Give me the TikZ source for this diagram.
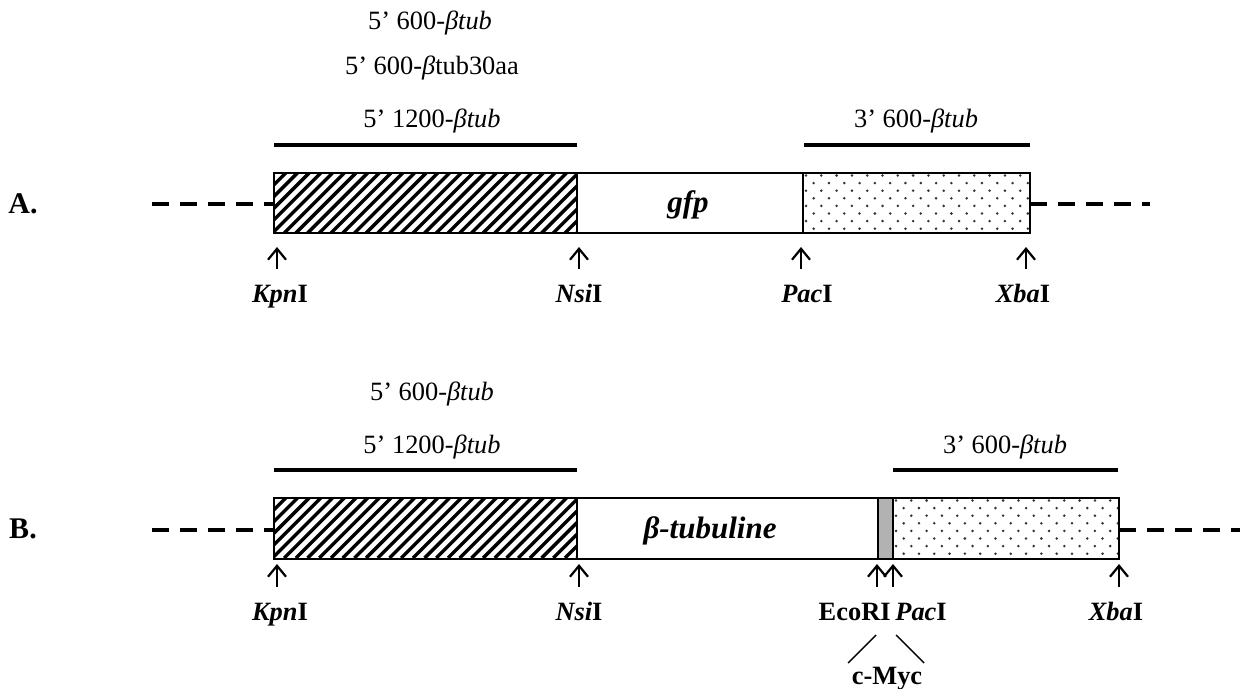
\documentclass[tikz,border=0pt]{standalone}
\usepackage{fontspec}
\setmainfont{Liberation Serif}
\usepackage{xcolor}
\usetikzlibrary{arrows.meta, positioning, calc}
\definecolor{inkOne}{HTML}{000000}
\definecolor{tagGray}{HTML}{B2B2B2}
\definecolor{dotc}{HTML}{333333}
\tikzset{
  seg/.style={draw=inkOne, line width=1pt},
  hatch/.style={draw=inkOne, line width=1.7pt},
  bar/.style={draw=inkOne, line width=2pt},
  vec/.style={draw=inkOne, line width=1.7pt, dash pattern=on 8.5pt off 5.5pt},
  site/.style={-{Straight Barb[length=5.5pt, width=9pt]}, draw=inkOne, line width=1.1pt},
  lbl/.style={font=\fontsize{13.2}{16}\selectfont, text=inkOne, inner sep=0pt},
  enz/.style={font=\fontsize{13.2}{16}\selectfont\bfseries, text=inkOne, inner sep=0pt},
  row/.style={font=\fontsize{15}{18}\selectfont\bfseries, text=inkOne, inner sep=0pt},
  gene/.style={font=\fontsize{15.5}{18}\selectfont\bfseries\itshape, text=inkOne, inner sep=0pt},
}

\begin{document}
\begin{tikzpicture}[x=0.5pt, y=-0.5pt]
  \useasboundingbox (0,0) rectangle (1240,689);
  % ---- hatched 5' parts and dotted 3' parts, both rows
  \foreach \yt in {173,498} {
    \begin{scope}
      \clip (274,\yt) rectangle (577,\yt+60);
      \foreach \k in {0,...,31} \draw[hatch] (214+11.7*\k,\yt+60) -- ++(60,-60);
    \end{scope}
  }
  \foreach \xl/\yt in {803/173, 893/498} {
    \begin{scope}
      \clip (\xl,\yt) rectangle (\xl+227,\yt+60);
      \foreach \i in {0,...,7}
        \foreach \j in {0,...,14}
          \fill[dotc] ({\xl+3+15.3*\j+7.65*mod(\i,2)},{\yt+2.5+7.6*\i}) circle[radius=0.7pt];
    \end{scope}
  }
  % ---- A: gfp construct
  \node[row] (rowA) at (23,204) {A.};
  \draw[vec] (152,204) -- (274,204);
  \draw[vec] (1030,204) -- (1150,204);
  \draw[seg] (274,173) rectangle (577,233);
  \draw[seg] (577,173) rectangle (803,233);
  \draw[seg] (803,173) rectangle (1030,233);
  \node[gene] (gfp) at (688,205) {gfp};
  \draw[bar] (274,145) -- (577,145);
  \draw[bar] (804,145) -- (1030,145);
  \node[lbl, anchor=base] (fiveA1) at (430,30) {5’ 600-\textit{βtub}};
  \node[lbl, anchor=base] (fiveA2) at (432,75) {5’ 600-\textit{β}tub30aa};
  \node[lbl, anchor=base] (fiveA3) at (432,128) {5’ 1200-\textit{βtub}};
  \node[lbl, anchor=base] (threeA) at (916,128) {3’ 600-\textit{βtub}};
  \foreach \x/\n in {277/kpn, 579/nsi, 801/pac, 1026/xba} {
    \coordinate (\n At) at (\x,247);
    \coordinate (\n Ab) at (\x,269);
    \draw[site] (\n Ab) -- (\n At);
  }
  \node[enz, anchor=base] (kpnA) at (280,302) {\textit{Kpn}I};
  \node[enz, anchor=base] (nsiA) at (579,302) {\textit{Nsi}I};
  \node[enz, anchor=base] (pacA) at (807,302) {\textit{Pac}I};
  \node[enz, anchor=base] (xbaA) at (1023,302) {\textit{Xba}I};
  % ---- B: beta-tubulin construct with c-Myc tag
  \node[row] (rowB) at (23,529) {B.};
  \draw[vec] (152,530) -- (274,530);
  \draw[vec] (1119,530) -- (1240,530);
  \draw[seg] (274,498) rectangle (577,559);
  \draw[seg] (577,498) rectangle (878,559);
  \draw[seg, fill=tagGray] (878,498) rectangle (893,559);
  \draw[seg] (893,498) rectangle (1119,559);
  \node[gene] (tubB) at (710,531) {β-tubuline};
  \draw[bar] (274,470) -- (577,470);
  \draw[bar] (893,470) -- (1118,470);
  \node[lbl, anchor=base] (fiveB1) at (432,400) {5’ 600-\textit{βtub}};
  \node[lbl, anchor=base] (fiveB2) at (432,453) {5’ 1200-\textit{βtub}};
  \node[lbl, anchor=base] (threeB) at (1005,453) {3’ 600-\textit{βtub}};
  \foreach \x/\n in {277/kpn, 579/nsi, 877/eco, 893/pac, 1119/xba} {
    \coordinate (\n Bt) at (\x,564);
    \coordinate (\n Bb) at (\x,587);
    \draw[site] (\n Bb) -- (\n Bt);
  }
  \node[enz, anchor=base] (kpnB) at (280,620) {\textit{Kpn}I};
  \node[enz, anchor=base] (nsiB) at (579,620) {\textit{Nsi}I};
  \node[enz, anchor=base east] (ecoB) at (891,620) {EcoRI};
  \node[enz, anchor=base west] (pacB) at (895,620) {\textit{Pac}I};
  \node[enz, anchor=base] (xbaB) at (1116,620) {\textit{Xba}I};
  \node[enz, anchor=base] (cmyc) at (887,684) {c-Myc};
  \coordinate (mycL) at (876,635);
  \coordinate (mycR) at (896,635);
  \draw[inkOne, line width=0.7pt] (mycL) -- (848,663);
  \draw[inkOne, line width=0.7pt] (mycR) -- (924,663);
\end{tikzpicture}
\end{document}
